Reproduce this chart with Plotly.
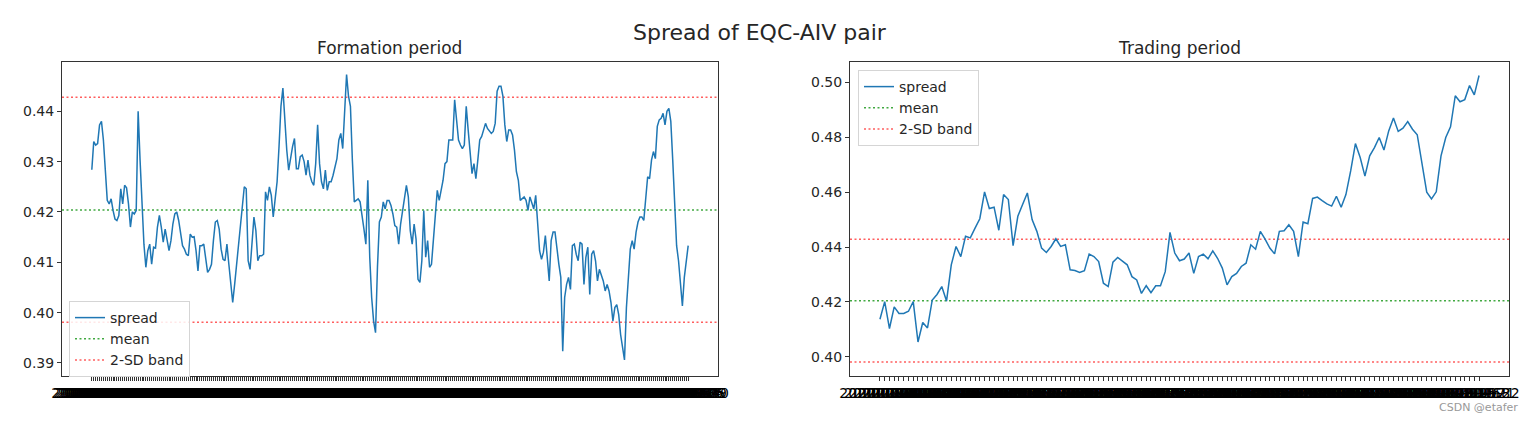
import pandas as pd
import plotly.graph_objects as go

# spread values
formation_spread = [
    0.4284, 0.4340, 0.4333, 0.4336, 0.4373, 0.4380, 0.4343, 0.4276, 0.4223, 0.4216,
    0.4226, 0.4203, 0.4186, 0.4183, 0.4193, 0.4246, 0.4216, 0.4253, 0.4248, 0.4216,
    0.4170, 0.4200, 0.4196, 0.4203, 0.4400, 0.4303, 0.4210, 0.4136, 0.4090, 0.4123,
    0.4136, 0.4096, 0.4130, 0.4128, 0.4170, 0.4193, 0.4170, 0.4140, 0.4166, 0.4143,
    0.4123, 0.4143, 0.4176, 0.4196, 0.4200, 0.4183, 0.4156, 0.4133, 0.4126, 0.4116,
    0.4113, 0.4156, 0.4150, 0.4151, 0.4123, 0.4083, 0.4133, 0.4133, 0.4136, 0.4110,
    0.4080, 0.4086, 0.4096, 0.4143, 0.4180, 0.4183, 0.4166, 0.4126, 0.4106, 0.4103,
    0.4136, 0.4096, 0.4056, 0.4020, 0.4056, 0.4096, 0.4143, 0.4183, 0.4216, 0.4250,
    0.4246, 0.4103, 0.4086, 0.4136, 0.4190, 0.4163, 0.4103, 0.4113, 0.4113, 0.4116,
    0.4240, 0.4223, 0.4250, 0.4233, 0.4190, 0.4226, 0.4260, 0.4330, 0.4410, 0.4446,
    0.4376, 0.4323, 0.4283, 0.4310, 0.4330, 0.4346, 0.4286, 0.4286, 0.4310, 0.4313,
    0.4300, 0.4273, 0.4303, 0.4273, 0.4260, 0.4253, 0.4296, 0.4373, 0.4296, 0.4260,
    0.4246, 0.4283, 0.4243, 0.4260, 0.4260, 0.4273, 0.4290, 0.4306, 0.4343, 0.4356,
    0.4326, 0.4410, 0.4473, 0.4430, 0.4410, 0.4303, 0.4220, 0.4223, 0.4226, 0.4220,
    0.4196, 0.4166, 0.4136, 0.4263, 0.4110, 0.4030, 0.3983, 0.3960, 0.4090, 0.4180,
    0.4190, 0.4220, 0.4206, 0.4223, 0.4223, 0.4213, 0.4196, 0.4173, 0.4170, 0.4136,
    0.4176, 0.4203, 0.4223, 0.4253, 0.4230, 0.4163, 0.4136, 0.4176, 0.4146, 0.4066,
    0.4060, 0.4103, 0.4203, 0.4110, 0.4143, 0.4090, 0.4096, 0.4143, 0.4203, 0.4243,
    0.4223, 0.4243, 0.4263, 0.4296, 0.4300, 0.4343, 0.4343, 0.4343, 0.4423, 0.4383,
    0.4343, 0.4333, 0.4326, 0.4333, 0.4410, 0.4363, 0.4310, 0.4276, 0.4296, 0.4266,
    0.4303, 0.4343, 0.4350, 0.4366,
    0.4376, 0.4366, 0.4360, 0.4356, 0.4360, 0.4376, 0.4440, 0.4450, 0.4450, 0.4430,
    0.4373, 0.4340, 0.4363, 0.4363, 0.4353, 0.4323, 0.4280, 0.4263, 0.4223, 0.4226,
    0.4230, 0.4223, 0.4203, 0.4230, 0.4220, 0.4206, 0.4233, 0.4176, 0.4123, 0.4106,
    0.4120, 0.4153, 0.4103, 0.4063, 0.4143, 0.4160, 0.4160, 0.4123, 0.4096, 0.4070,
    0.3923, 0.4030, 0.4056, 0.4070, 0.4046, 0.4133, 0.4136, 0.4116, 0.4103, 0.4140,
    0.4136, 0.4056, 0.4110, 0.4130, 0.4036, 0.4116, 0.4123, 0.4103, 0.4063, 0.4086,
    0.4076, 0.4063, 0.4043, 0.4056, 0.4043, 0.4020, 0.3983, 0.4010, 0.4016, 0.3996,
    0.3956, 0.3930, 0.3906, 0.4010, 0.4070, 0.4126, 0.4143, 0.4126, 0.4160, 0.4180,
    0.4190, 0.4190, 0.4183, 0.4223, 0.4270, 0.4266, 0.4303, 0.4320, 0.4306, 0.4370,
    0.4383, 0.4386, 0.4396, 0.4373, 0.4400, 0.4406, 0.4380, 0.4303, 0.4203, 0.4133,
    0.4103, 0.4063, 0.4013, 0.4070, 0.4106, 0.4133,
]

trading_spread = [
    0.4137, 0.4201, 0.4103, 0.4182, 0.4158, 0.4158, 0.4166, 0.4201, 0.4054, 0.4125,
    0.4105, 0.4207, 0.4227, 0.4256, 0.4203, 0.4335, 0.4402, 0.4365, 0.4439, 0.4433,
    0.4469, 0.4503, 0.4601, 0.4540, 0.4545, 0.4461, 0.4591, 0.4573, 0.4405, 0.4512,
    0.4555, 0.4597, 0.4500, 0.4457, 0.4396, 0.4380, 0.4402, 0.4430, 0.4402, 0.4408,
    0.4317, 0.4314, 0.4307, 0.4314, 0.4374, 0.4365, 0.4347, 0.4268, 0.4256, 0.4345,
    0.4362, 0.4347, 0.4335, 0.4292, 0.4280, 0.4231, 0.4259, 0.4234, 0.4259, 0.4259,
    0.4310, 0.4453, 0.4378, 0.4350, 0.4356, 0.4378, 0.4304, 0.4365, 0.4374, 0.4357,
    0.4386, 0.4359, 0.4323, 0.4262, 0.4292, 0.4304, 0.4329, 0.4341, 0.4408, 0.4392,
    0.4457, 0.4429, 0.4396, 0.4375, 0.4457, 0.4459, 0.4481, 0.4457, 0.4365, 0.4491,
    0.4485, 0.4577, 0.4582, 0.4569, 0.4557, 0.4549, 0.4585, 0.4545, 0.4591, 0.4677,
    0.4777, 0.4726, 0.4658, 0.4732, 0.4762, 0.4799, 0.4753, 0.4823, 0.4870, 0.4821,
    0.4833, 0.4857, 0.4829, 0.4809, 0.4701, 0.4600, 0.4575, 0.4601, 0.4732, 0.4799,
    0.4838, 0.4951, 0.4929, 0.4937, 0.4988, 0.4954, 0.5025,
]

spread_mean = 0.4204
band_upper = 0.4428
band_lower = 0.3981

formation_dates = pd.bdate_range("2019-01-02", periods=len(formation_spread)).strftime("%Y-%m-%d").tolist()
trading_dates = pd.bdate_range("2020-03-30", periods=len(trading_spread)).strftime("%Y-%m-%d").tolist()

W, H = 1536, 421
BLUE = "#1f77b4"
GREEN = "rgba(44,160,44,0.9)"
RED = "rgba(255,40,40,0.75)"
DOT = "2px,2.5px"
FONT = "DejaVu Sans"
TXT = "#262626"

fig = go.Figure()

fig.add_trace(go.Scatter(
    x=formation_dates, y=formation_spread, mode="lines", name="spread",
    line=dict(color=BLUE, width=1.5), xaxis="x", yaxis="y", legend="legend",
))
fig.add_trace(go.Scatter(
    x=trading_dates, y=trading_spread, mode="lines", name="spread",
    line=dict(color=BLUE, width=1.5), xaxis="x2", yaxis="y2", legend="legend2",
))

shapes = []
for ax, leg in (("", "legend"), ("2", "legend2")):
    shapes.append(dict(type="line", xref=f"x{ax} domain", yref=f"y{ax}", x0=0, x1=1,
                       y0=spread_mean, y1=spread_mean, line=dict(color=GREEN, width=1.5, dash=DOT),
                       showlegend=True, name="mean", legend=leg, layer="below"))
    shapes.append(dict(type="line", xref=f"x{ax} domain", yref=f"y{ax}", x0=0, x1=1,
                       y0=band_upper, y1=band_upper, line=dict(color=RED, width=1.5, dash=DOT),
                       showlegend=True, name="2-SD band", legend=leg, legendgroup=f"band{ax}", layer="below"))
    shapes.append(dict(type="line", xref=f"x{ax} domain", yref=f"y{ax}", x0=0, x1=1,
                       y0=band_lower, y1=band_lower, line=dict(color=RED, width=1.5, dash=DOT),
                       showlegend=False, legendgroup=f"band{ax}", layer="below"))


def px_x(p):
    return p / W


def px_y(p):
    return 1 - p / H


axis_common = dict(
    showline=True, mirror=True, linecolor="#333333", linewidth=1,
    ticks="outside", ticklen=4, tickcolor="#333333", showgrid=False, zeroline=False,
    automargin=False,
)
y_font = dict(family=FONT, size=14, color=TXT)
x_font = dict(family=FONT, size=14, color="#000000")

n1, n2 = len(formation_dates), len(trading_dates)

legend_common = dict(
    bgcolor="rgba(255,255,255,0.85)", bordercolor="#d5d5d5", borderwidth=1,
    font=dict(family=FONT, size=14, color=TXT), xanchor="left", yanchor="top",
    itemwidth=30, tracegroupgap=0,
)


def label(text, x, y, size, **kw):
    return dict(text=text, x=px_x(x), y=px_y(y), xref="paper", yref="paper",
                xanchor=kw.pop("xanchor", "center"), yanchor="middle", showarrow=False,
                font=dict(family=FONT, size=size, color=kw.pop("color", TXT)))


fig.update_layout(
    width=W, height=H,
    margin=dict(l=0, r=0, t=0, b=0),
    paper_bgcolor="white", plot_bgcolor="white",
    font=dict(family=FONT, color=TXT),
    shapes=shapes,
    xaxis=dict(domain=[px_x(62), px_x(718)], type="category",
               tickmode="array", tickvals=formation_dates, ticktext=formation_dates,
               tickangle=0, range=[-0.05 * (n1 - 1), 1.05 * (n1 - 1)], anchor="y",
               tickfont=x_font, **axis_common),
    yaxis=dict(domain=[px_y(376), px_y(62)], range=[0.3874, 0.4498], dtick=0.01, tickformat=".2f",
               anchor="x", tickfont=y_font, **axis_common),
    xaxis2=dict(domain=[px_x(850), px_x(1509)], type="category",
                tickmode="array", tickvals=trading_dates, ticktext=trading_dates,
                tickangle=0, range=[-0.05 * (n2 - 1), 1.05 * (n2 - 1)], anchor="y2",
                tickfont=x_font, **axis_common),
    yaxis2=dict(domain=[px_y(376), px_y(62)], range=[0.3930, 0.5074], dtick=0.02, tickformat=".2f",
                anchor="x2", tickfont=y_font, **axis_common),
    legend=dict(x=px_x(69), y=px_y(301), **legend_common),
    legend2=dict(x=px_x(858), y=px_y(70), **legend_common),
    annotations=[
        label("Spread of EQC-AIV pair", 760, 32, 22),
        label("Formation period", 389, 48, 17),
        label("Trading period", 1179, 48, 17),
        label("CSDN @etafer", 1520, 407, 11, xanchor="right", color="#999999"),
    ],
)

fig.write_html("out.html", config={"displayModeBar": False},
               post_script="document.body.style.margin='0';")
